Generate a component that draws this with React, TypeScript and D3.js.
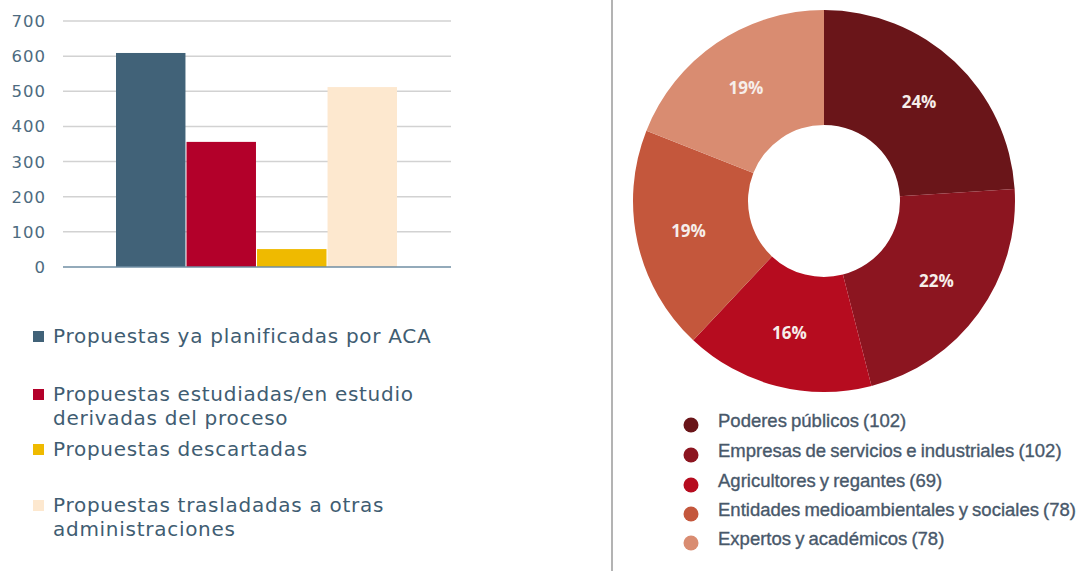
import React, { useEffect, useRef } from "react";
import * as d3 from "d3";

// bar chart data
const barCategories = [
  "Propuestas ya planificadas por ACA",
  "Propuestas estudiadas/en estudio derivadas del proceso",
  "Propuestas descartadas",
  "Propuestas trasladadas a otras administraciones",
];
const barValues = [609, 356, 51, 512];
const barColors = ["#416278", "#b3002a", "#efba00", "#fde8cf"];
const yTicks = [0, 100, 200, 300, 400, 500, 600, 700];
// legend lines (wrapped as in the picture)
const barLegendLines = [
  ["Propuestas ya planificadas por ACA"],
  ["Propuestas estudiadas/en estudio", "derivadas del proceso"],
  ["Propuestas descartadas"],
  ["Propuestas trasladadas a otras", "administraciones"],
];

// donut data
const pieGroups = [
  "Poderes públicos",
  "Empresas de servicios e industriales",
  "Agricultores y regantes",
  "Entidades medioambientales y sociales",
  "Expertos y académicos",
];
const pieCounts = [102, 102, 69, 78, 78];
const piePercents = [24, 22, 16, 19, 19];
const pieColors = ["#6a1519", "#8c1520", "#b60c1f", "#c4573c", "#d98c71"];

export default function App() {
  const ref = useRef<SVGSVGElement>(null);

  useEffect(() => {
    const svg = d3.select(ref.current);
    svg.selectAll("*").remove();

    // ---------- bar chart ----------
    const plot = { left: 63, right: 451, top: 21, bottom: 267 };
    const y = d3.scaleLinear().domain([0, 700]).range([plot.bottom, plot.top]);
    const x = d3
      .scaleBand()
      .domain(barCategories)
      .range([116, 397])
      .paddingInner(0.015);

    const bars = svg.append("g");
    bars
      .selectAll("line.grid")
      .data(yTicks.filter((t) => t > 0))
      .enter()
      .append("line")
      .attr("x1", plot.left)
      .attr("x2", plot.right)
      .attr("y1", (d) => y(d))
      .attr("y2", (d) => y(d))
      .attr("stroke", "#d2d2d2")
      .attr("stroke-width", 1.5);

    bars
      .selectAll("text.tick")
      .data(yTicks)
      .enter()
      .append("text")
      .attr("x", 46)
      .attr("y", (d) => y(d))
      .attr("dy", "0.36em")
      .attr("text-anchor", "end")
      .style("font-family", "'DejaVu Sans', Verdana, sans-serif")
      .style("font-size", "16.5px")
      .style("letter-spacing", "1px")
      .attr("fill", "#4d6b80")
      .text((d) => d);

    bars
      .selectAll("rect.bar")
      .data(barValues)
      .enter()
      .append("rect")
      .attr("x", (_, i) => x(barCategories[i]) as number)
      .attr("width", x.bandwidth())
      .attr("y", (d) => y(d))
      .attr("height", (d) => y(0) - y(d))
      .attr("fill", (_, i) => barColors[i]);

    bars
      .append("line")
      .attr("x1", plot.left)
      .attr("x2", plot.right)
      .attr("y1", y(0))
      .attr("y2", y(0))
      .attr("stroke", "#6f8ea3")
      .attr("stroke-width", 1.5);

    // bar legend
    const legendTop = [343, 401, 456, 512];
    const leg = bars
      .selectAll("g.leg")
      .data(barLegendLines)
      .enter()
      .append("g")
      .attr("transform", (_, i) => `translate(0,${legendTop[i]})`);
    leg
      .append("rect")
      .attr("x", 33)
      .attr("y", -12)
      .attr("width", 11)
      .attr("height", 11)
      .attr("fill", (_, i) => barColors[i]);
    leg
      .append("text")
      .style("font-family", "'DejaVu Sans', Verdana, sans-serif")
      .style("font-size", "20px")
      .style("letter-spacing", "0.72px")
      .attr("fill", "#3f5d72")
      .selectAll("tspan")
      .data((d) => d)
      .enter()
      .append("tspan")
      .attr("x", 53)
      .attr("y", (_, j) => j * 24)
      .text((d) => d);

    // divider
    svg
      .append("line")
      .attr("x1", 612)
      .attr("x2", 612)
      .attr("y1", 0)
      .attr("y2", 571)
      .attr("stroke", "#9a9a9a")
      .attr("stroke-width", 1.5);

    // ---------- donut ----------
    const cx = 824;
    const cy = 201;
    const outerR = 191;
    const innerR = 76;
    const pie = d3
      .pie<number>()
      .sort(null)
      .value((d) => d);
    const arcs = pie(piePercents);
    const arc = d3.arc<d3.PieArcDatum<number>>().innerRadius(innerR).outerRadius(outerR);

    const donut = svg.append("g").attr("transform", `translate(${cx},${cy})`);
    donut
      .selectAll("path")
      .data(arcs)
      .enter()
      .append("path")
      .attr("d", arc)
      .attr("fill", (_, i) => pieColors[i]);
    donut
      .selectAll("text")
      .data(arcs)
      .enter()
      .append("text")
      .attr("transform", (d) => {
        const [px, py] = arc.centroid(d);
        return `translate(${px * 1.04},${py * 1.02})`;
      })
      .attr("text-anchor", "middle")
      .attr("dy", "0.35em")
      .style("font-family", "'Open Sans', sans-serif")
      .style("font-weight", "bold")
      .style("font-size", "17px")
      .attr("fill", "#f6eeea")
      .text((d) => `${d.data}%`);

    // donut legend
    const rowY = [421, 451, 481, 510, 539];
    const pleg = svg
      .selectAll("g.pleg")
      .data(pieGroups)
      .enter()
      .append("g")
      .attr("transform", (_, i) => `translate(0,${rowY[i]})`);
    pleg
      .append("circle")
      .attr("cx", 691)
      .attr("cy", 4)
      .attr("r", 7.5)
      .attr("fill", (_, i) => pieColors[i]);
    pleg
      .append("text")
      .attr("x", 718)
      .attr("y", 0)
      .attr("dy", "0.35em")
      .style("font-family", "'Liberation Sans', Arial, sans-serif")
      .style("font-size", "18.5px")
      .style("word-spacing", "-1px")
      .attr("fill", "#48586a")
      .attr("stroke", "#48586a")
      .attr("stroke-width", 0.35)
      .text((d, i) => `${d} (${pieCounts[i]})`);
  }, []);

  return (
    <svg
      ref={ref}
      width={1080}
      height={571}
      style={{ position: "absolute", left: 0, top: 0, background: "#fff" }}
    />
  );
}
